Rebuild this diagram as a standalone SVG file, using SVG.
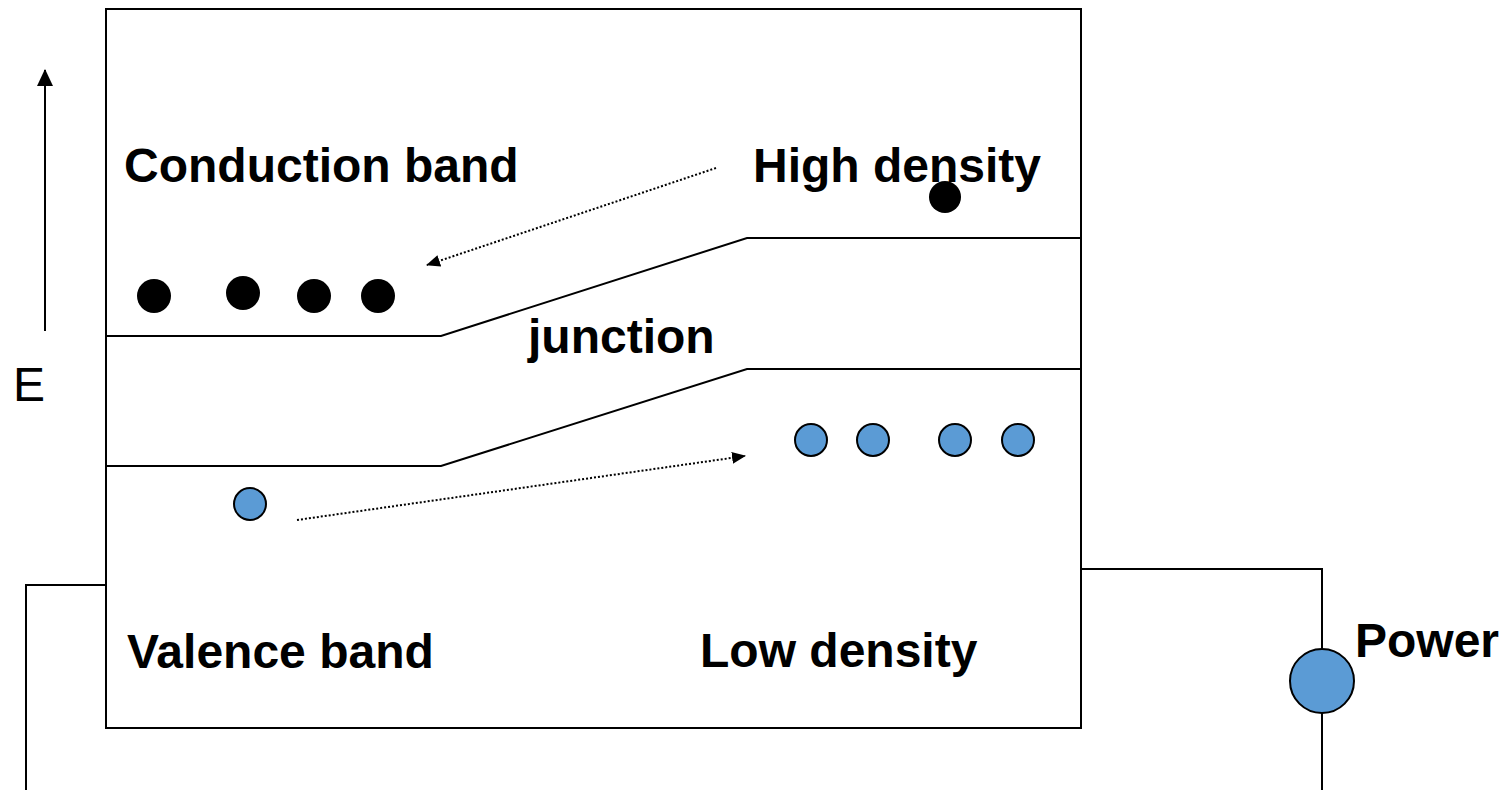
<svg xmlns="http://www.w3.org/2000/svg" width="1512" height="790" viewBox="0 0 1512 790">
<style>
.ln{fill:none;stroke:#000;stroke-width:2}
.dot{fill:none;stroke:#000;stroke-width:2;stroke-dasharray:2 2}
.lbl{font-family:"Liberation Sans",Arial,sans-serif;font-size:48px;font-weight:bold;fill:#000}
.e{font-family:"Liberation Sans",Arial,sans-serif;font-size:48px;fill:#000}
.el{fill:#000}
.ho{fill:#5b9bd5;stroke:#000;stroke-width:2}
</style>
<defs>
<marker id="ah" markerWidth="14" markerHeight="12" refX="13" refY="6" orient="auto" markerUnits="userSpaceOnUse" viewBox="0 0 14 12">
<path d="M0,0 L14,6 L0,12 Z" fill="#000"/>
</marker>
<marker id="ahE" markerWidth="18" markerHeight="16" refX="16" refY="8" orient="auto" markerUnits="userSpaceOnUse" viewBox="0 0 18 16">
<path d="M0,0 L17,8 L0,16 Z" fill="#000"/>
</marker>
</defs>
<rect width="1512" height="790" fill="#fff"/>
<g id="device">
<rect x="106" y="9" width="975" height="719" class="ln"/>
</g>
<g id="connectors">
<polyline class="ln" points="106,336 441,336 747,238 1081,238"/>
<polyline class="ln" points="106,466 441,466 747,369 1081,369"/>
<polyline class="ln" points="106,585 26,585 26,790"/>
<polyline class="ln" points="1081,569 1322,569 1322,649"/>
<line class="ln" x1="1322" y1="713" x2="1322" y2="790"/>
<line class="ln" x1="45" y1="331" x2="45" y2="70" marker-end="url(#ahE)"/>
<line class="dot" x1="716" y1="168" x2="427" y2="265" marker-end="url(#ah)"/>
<line class="dot" x1="297" y1="520" x2="745" y2="456" marker-end="url(#ah)"/>
</g>
<g id="electrons">
<circle class="el" cx="154" cy="296" r="17"/>
<circle class="el" cx="243" cy="293" r="17"/>
<circle class="el" cx="314" cy="296" r="17"/>
<circle class="el" cx="378" cy="296" r="17"/>
<circle class="el" cx="945" cy="197" r="16"/>
</g>
<g id="holes">
<circle class="ho" cx="250" cy="504" r="16"/>
<circle class="ho" cx="811" cy="440" r="16"/>
<circle class="ho" cx="873" cy="440" r="16"/>
<circle class="ho" cx="955" cy="440" r="16"/>
<circle class="ho" cx="1018" cy="440" r="16"/>
</g>
<g id="power">
<circle class="ho" cx="1322" cy="681" r="32"/>
<text class="lbl" x="1355" y="657">Power</text>
</g>
<g id="labels">
<text class="e" x="13" y="401">E</text>
<text class="lbl" x="124" y="182">Conduction band</text>
<text class="lbl" x="753" y="182">High density</text>
<text class="lbl" x="528" y="353">junction</text>
<text class="lbl" x="127" y="668">Valence band</text>
<text class="lbl" x="700" y="667">Low density</text>
</g>
</svg>
